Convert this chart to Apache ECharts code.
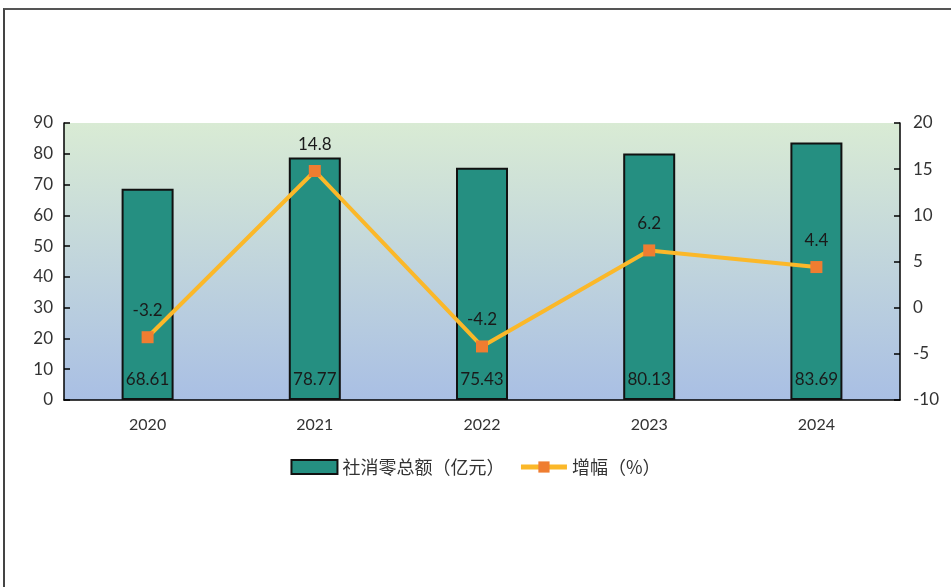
<!DOCTYPE html>
<html><head><meta charset="utf-8">
<script src="https://cdn.jsdelivr.net/npm/echarts@6/dist/echarts.min.js"></script>
<style>html,body{margin:0;padding:0;background:#fff}#frame{position:absolute;left:3px;top:8px;width:960px;height:600px;border-left:2px solid #444;border-top:2px solid #555}#c{position:absolute;left:0;top:0;width:951px;height:587px}</style>
</head><body><div id="frame"></div><div id="c"></div>
<script>
const categories = ['2020','2021','2022','2023','2024'];
const salesValues = [68.61, 78.77, 75.43, 80.13, 83.69];
const growthValues = [-3.2, 14.8, -4.2, 6.2, 4.4];
const leftTicks = {min:0, max:90, interval:10};
const rightTicks = {min:-10, max:20, interval:5};
const seriesNames = ['社消零总额（亿元）','增幅（%）'];

const font = 'Lato, "Noto Sans CJK SC", sans-serif';
const chart = echarts.init(document.getElementById('c'));
chart.setOption({
  animation:false,
  textStyle:{fontFamily:font},
  grid:{left:64,right:51,top:123,bottom:187,show:true,borderWidth:0,
    backgroundColor:new echarts.graphic.LinearGradient(0,0,0,1,[{offset:0,color:'#d9ebd4'},{offset:1,color:'#a9bfe4'}])},
  legend:{bottom:106,left:'center',itemGap:14,itemWidth:46,itemHeight:14,
    textStyle:{fontSize:18,color:'#333',fontFamily:'"Noto Sans CJK SC", sans-serif'},
    data:[{name:seriesNames[0],icon:'rect',itemStyle:{borderWidth:2,borderColor:'#111'}},
          {name:seriesNames[1],lineStyle:{width:5}}]},
  xAxis:{type:'category',data:categories,
    axisLine:{lineStyle:{color:'#000',width:1.5}},
    axisTick:{inside:true,length:6,lineStyle:{color:'#000',width:1.5}},
    axisLabel:{fontSize:16,color:'#333',margin:17}},
  yAxis:[
    {type:'value',min:leftTicks.min,max:leftTicks.max,interval:leftTicks.interval,
     axisLine:{show:true,lineStyle:{color:'#000',width:1.5}},
     axisTick:{show:true,inside:true,length:6,lineStyle:{color:'#000',width:1.5}},
     splitLine:{show:false},axisLabel:{fontSize:17,color:'#333',margin:11}},
    {type:'value',min:rightTicks.min,max:rightTicks.max,interval:rightTicks.interval,
     axisLine:{show:true,lineStyle:{color:'#000',width:1.5}},
     axisTick:{show:true,inside:true,length:6,lineStyle:{color:'#000',width:1.5}},
     splitLine:{show:false},axisLabel:{fontSize:17,color:'#333',margin:13}}
  ],
  series:[
    {name:seriesNames[0],type:'bar',data:salesValues,barWidth:52,yAxisIndex:0,
     itemStyle:{color:'#258f81',borderColor:'#111',borderWidth:2},
     label:{show:true,position:'insideBottom',distance:12,fontSize:17,color:'#1a1a1a'}},
    {name:seriesNames[1],type:'line',data:growthValues,yAxisIndex:1,
     symbol:'rect',symbolSize:12,
     lineStyle:{color:'#fbb829',width:4},
     itemStyle:{color:'#ef7d31'},
     label:{show:true,position:'top',distance:12,fontSize:17,color:'#1a1a1a'}}
  ]
});
</script></body></html>
